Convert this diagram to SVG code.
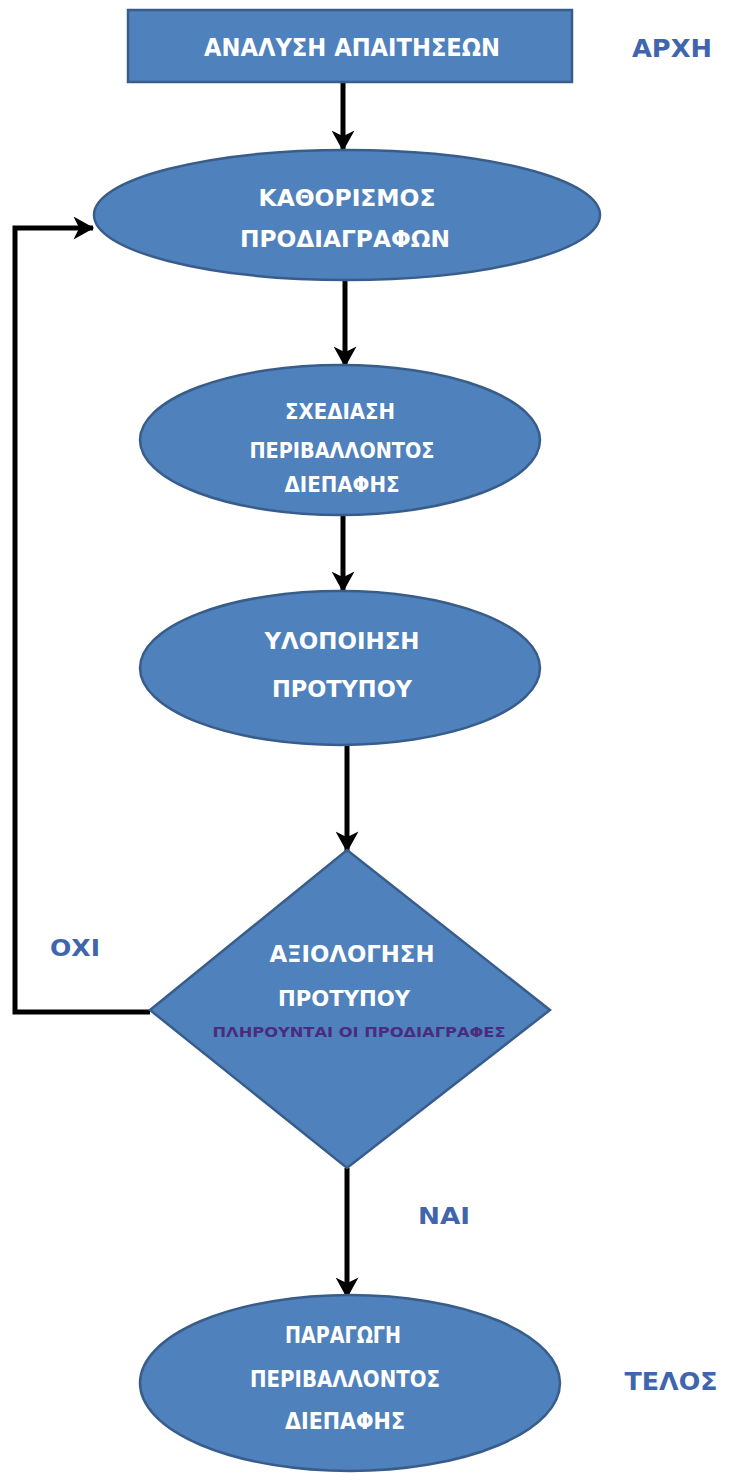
<svg xmlns="http://www.w3.org/2000/svg" width="730" height="1483" viewBox="0 0 730 1483">
  <defs>
    <marker id="arrow" viewBox="0 0 20 20" refX="17" refY="10" markerWidth="4.6" markerHeight="4.6" markerUnits="strokeWidth" orient="auto">
      <path d="M0,0 L18,10 L0,20 L5,10 Z" fill="#000"/>
    </marker>
  </defs>
  <style>
    .shape { fill: #4f81bd; stroke: #385d8a; stroke-width: 2.5; }
    .label { font-family: "DejaVu Sans Condensed", "Liberation Sans", Arial, sans-serif; font-weight: bold; fill: #ffffff; text-anchor: middle; }
    .side { font-family: "DejaVu Sans Condensed", "Liberation Sans", Arial, sans-serif; font-weight: bold; fill: #3f66ad; text-anchor: middle; }
    .cond { font-family: "DejaVu Sans Condensed", "Liberation Sans", Arial, sans-serif; font-weight: bold; fill: #4a2c7f; text-anchor: middle; }
    .link { fill: none; stroke: #000; stroke-width: 5; }
  </style>
  <rect width="730" height="1483" fill="#ffffff"/>

  <!-- connectors -->
  <g id="connectors">
    <line class="link" x1="343" y1="83" x2="343" y2="150" marker-end="url(#arrow)"/>
    <line class="link" x1="345" y1="281" x2="345" y2="366" marker-end="url(#arrow)"/>
    <line class="link" x1="343" y1="516" x2="343" y2="591" marker-end="url(#arrow)"/>
    <line class="link" x1="347" y1="746" x2="347" y2="851" marker-end="url(#arrow)"/>
    <polyline class="link" points="150,1012 15,1012 15,228 93,228" marker-end="url(#arrow)"/>
    <line class="link" x1="347" y1="1168" x2="347" y2="1297" marker-end="url(#arrow)"/>
  </g>

  <!-- start: requirements analysis -->
  <g id="node-analysis">
    <rect class="shape" x="128" y="10" width="444" height="72"/>
    <text class="label" x="352" y="56" font-size="24" textLength="296" lengthAdjust="spacingAndGlyphs">ΑΝΑΛΥΣΗ ΑΠΑΙΤΗΣΕΩΝ</text>
  </g>

  <g id="node-specs">
    <ellipse class="shape" cx="347" cy="215" rx="253" ry="65"/>
    <text class="label" x="347" y="206" font-size="23" textLength="177" lengthAdjust="spacingAndGlyphs">ΚΑΘΟΡΙΣΜΟΣ</text>
    <text class="label" x="345" y="247" font-size="23" textLength="210" lengthAdjust="spacingAndGlyphs">ΠΡΟΔΙΑΓΡΑΦΩΝ</text>
  </g>

  <g id="node-design">
    <ellipse class="shape" cx="340" cy="440" rx="200" ry="75"/>
    <text class="label" x="340" y="419" font-size="21" textLength="110" lengthAdjust="spacingAndGlyphs">ΣΧΕΔΙΑΣΗ</text>
    <text class="label" x="342" y="458" font-size="21" textLength="185" lengthAdjust="spacingAndGlyphs">ΠΕΡΙΒΑΛΛΟΝΤΟΣ</text>
    <text class="label" x="342" y="492" font-size="21" textLength="115" lengthAdjust="spacingAndGlyphs">ΔΙΕΠΑΦΗΣ</text>
  </g>

  <g id="node-prototype">
    <ellipse class="shape" cx="340" cy="668" rx="200" ry="77"/>
    <text class="label" x="342" y="649" font-size="23" textLength="155" lengthAdjust="spacingAndGlyphs">ΥΛΟΠΟΙΗΣΗ</text>
    <text class="label" x="342" y="697" font-size="23" textLength="140" lengthAdjust="spacingAndGlyphs">ΠΡΟΤΥΠΟΥ</text>
  </g>

  <g id="node-evaluation">
    <polygon class="shape" points="347,850 550,1010 347,1168 150,1010"/>
    <text class="label" x="352" y="962" font-size="23" textLength="165" lengthAdjust="spacingAndGlyphs">ΑΞΙΟΛΟΓΗΣΗ</text>
    <text class="label" x="344" y="1006" font-size="22" textLength="132" lengthAdjust="spacingAndGlyphs">ΠΡΟΤΥΠΟΥ</text>
    <text class="cond" x="359" y="1037" font-size="14" textLength="293" lengthAdjust="spacingAndGlyphs">ΠΛΗΡΟΥΝΤΑΙ ΟΙ ΠΡΟΔΙΑΓΡΑΦΕΣ</text>
  </g>

  <g id="node-production">
    <ellipse class="shape" cx="350" cy="1383" rx="210" ry="88"/>
    <text class="label" x="343" y="1343" font-size="23" textLength="116" lengthAdjust="spacingAndGlyphs">ΠΑΡΑΓΩΓΗ</text>
    <text class="label" x="345" y="1387" font-size="23" textLength="190" lengthAdjust="spacingAndGlyphs">ΠΕΡΙΒΑΛΛΟΝΤΟΣ</text>
    <text class="label" x="345" y="1429" font-size="23" textLength="120" lengthAdjust="spacingAndGlyphs">ΔΙΕΠΑΦΗΣ</text>
  </g>

  <!-- side labels -->
  <g id="labels">
    <text class="side" x="672" y="57" font-size="24" textLength="80" lengthAdjust="spacingAndGlyphs">ΑΡΧΗ</text>
    <text class="side" x="75" y="956" font-size="23" textLength="50" lengthAdjust="spacingAndGlyphs">ΟΧΙ</text>
    <text class="side" x="444" y="1224" font-size="23" textLength="52" lengthAdjust="spacingAndGlyphs">ΝΑΙ</text>
    <text class="side" x="671" y="1390" font-size="24" textLength="93" lengthAdjust="spacingAndGlyphs">ΤΕΛΟΣ</text>
  </g>
</svg>
